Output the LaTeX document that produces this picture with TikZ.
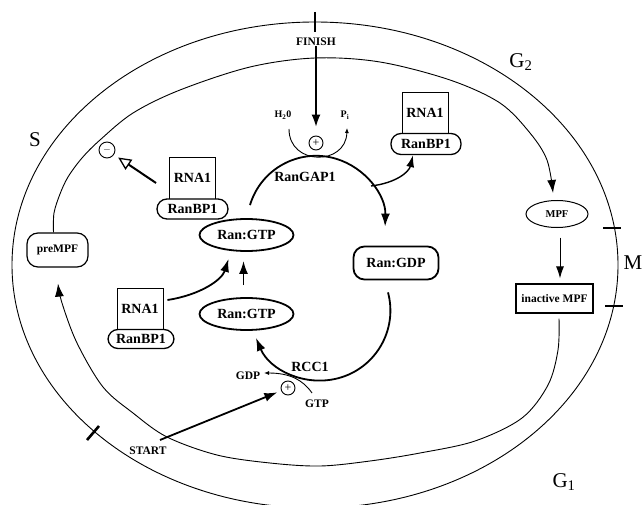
\documentclass[tikz,border=0pt]{standalone}
\usepackage{fontspec}
\setmainfont{Liberation Serif}
\usetikzlibrary{arrows.meta,shapes.geometric}
\begin{document}
\begin{tikzpicture}[x=1pt,y=-1pt,
  lbl/.style={font=\fontsize{14}{16}\selectfont\bfseries, inner sep=0pt},
  slbl/.style={font=\fontsize{11.5}{13}\selectfont\bfseries, inner sep=0pt},
  phase/.style={font=\fontsize{21}{23}\selectfont, inner sep=0pt},
  ranell/.style={draw, ellipse, line width=1.8pt, minimum width=94pt, minimum height=32pt, inner sep=0pt, lbl},
  rnabox/.style={draw, line width=0.9pt, minimum width=46pt, minimum height=41pt, inner sep=0pt, lbl},
  bpbox/.style={draw, fill=white, rounded corners=10pt, line width=1.3pt, minimum width=70pt, minimum height=21pt, inner sep=0pt, lbl},
  sign/.style={draw, circle, line width=0.9pt, minimum size=14pt, inner sep=0pt},
  thinline/.style={line width=0.9pt},
  thickarrow/.style={line width=1.8pt, -{Latex[length=13pt,width=9pt]}},
  tick/.style={line width=2.6pt}
]
\useasboundingbox (0,0) rectangle (642,505);
% cell cycle circles
\draw[thinline] (315,265) ellipse[x radius=303, y radius=243];
\draw[tick] (315,12) -- (315,32);
\draw[tick] (603,228) -- (621,228);
\draw[tick] (605,306) -- (623,306);
\draw[tick] (87,440) -- (99,426);
\node[phase] (S) at (35,140) {S};
\node[phase] (G2) at (521,62) {G\textsubscript{2}};
\node[phase] (M) at (633,263) {M};
\node[phase] (G1) at (564,482) {G\textsubscript{1}};
% MPF nodes
\node[draw, rounded corners=11pt, line width=1.2pt, minimum width=61pt, minimum height=34pt, inner sep=0pt, font=\fontsize{11.5}{13}\selectfont\bfseries] (pre) at (57.5,250) {preMPF};
\node[draw, ellipse, line width=1pt, minimum width=62pt, minimum height=27pt, inner sep=0pt, font=\fontsize{10.5}{12}\selectfont\bfseries] (mpf) at (557,214) {MPF};
\node[draw, line width=1.2pt, minimum width=77pt, minimum height=29pt, inner sep=0pt, font=\fontsize{11.5}{13}\selectfont\bfseries] (inact) at (554.5,298.5) {inactive MPF};
\draw[thinline, -{Latex[length=13pt,width=9pt]}] plot[smooth, tension=0.55] coordinates {([xshift=-4pt]pre.north) (54,213) (60,194) (68,177) (82,158) (100,140) (133,113) (180,90) (250,67) (315,58) (380,62) (450,80) (500,103) (530,133) (547,160) ([shift={(-4,-7)}]mpf.north)};
\draw[thinline, -{Latex[length=12pt,width=8pt]}] ([xshift=3pt,yshift=-9.5pt]mpf.south) -- ([xshift=5.5pt,yshift=5pt]inact.north);
\draw[thinline, -{Latex[length=13pt,width=9pt]}] plot[smooth, tension=0.55] coordinates {([shift={(4.5,5)}]inact.south) (558,350) (548,385) (522,418) (475,441) (420,453) (370,461) (320,466) (270,463) (217,455) (167,437) (133,413) (103,387) (77,343) (62,303) ([shift={(0.5,16)}]pre.south)};
% Ran nodes
\node[ranell] (gtpU) at (246.5,235) {Ran:GTP};
\node[ranell] (gtpL) at (246.5,314) {Ran:GTP};
\node[draw, rounded corners=11pt, line width=1.8pt, minimum width=85pt, minimum height=33pt, inner sep=0pt, lbl] (gdp) at (396,263) {Ran:GDP};
\node[rnabox] (rnaTR) at (425,113) {RNA1};
\node[bpbox] (bpTR) at (426,144) {RanBP1};
\node[rnabox, minimum height=42pt] (rnaUL) at (192.5,178) {RNA1};
\node[bpbox, minimum width=71pt, minimum height=20pt] (bpUL) at (192.5,209) {RanBP1};
\node[rnabox, minimum height=42pt] (rnaLL) at (140,309) {RNA1};
\node[bpbox, minimum width=66pt, minimum height=19pt] (bpLL) at (141,339) {RanBP1};
% signs
\node[sign] (plusT) at (316,143) {\fontsize{12}{12}\selectfont +};
\node[sign] (plusB) at (288,388) {\fontsize{12}{12}\selectfont +};
\node[sign, minimum size=16pt] (minus) at (107,150) {$-$};
% labels
\node[slbl] (finish) at (316,42) {FINISH};
\node[font=\fontsize{10}{12}\selectfont\bfseries, inner sep=0pt] (h2o) at (283,115) {H\textsubscript{2}0};
\node[font=\fontsize{10}{12}\selectfont\bfseries, inner sep=0pt] (pi) at (345,115) {P\textsubscript{i}};
\node[lbl] (rangap) at (305,177) {RanGAP1};
\node[lbl] (rcc) at (310,367) {RCC1};
\node[slbl] (gdpl) at (248,376) {GDP};
\node[slbl] (gtpl) at (317,404) {GTP};
\node[slbl] (start) at (148,451) {START};
% connectors
\draw[line width=1.2pt, -{Latex[length=12pt,width=9pt]}, shorten >=9pt] (finish.south) -- (plusT);
\draw[thinline, -{Latex[length=5pt,width=4pt]}] ([shift={(6,14)}]h2o.center) .. controls (289,166) and (346,166) .. ([shift={(2,13)}]pi.center);
\draw[thickarrow] ([shift={(3.5,-13)}]gtpU.north) arc[start angle=196.6, end angle=361.5, radius=69];
\coordinate (br) at (371,186);
\draw[line width=1.4pt, -{Latex[length=12pt,width=8pt]}] (br) .. controls (396,183) and (409,172) .. ([xshift=-13pt]bpTR.south);
\draw[thickarrow] ([shift={(-8,12)}]gdp.south) arc[start angle=-15, end angle=157, radius=70];
\draw[thickarrow] ([xshift=-3pt,yshift=12pt]gtpL.north) -- ([xshift=-3pt,yshift=-9pt]gtpU.south);
\draw[thickarrow] ([shift={(4,-9)}]rnaLL.east) .. controls (200,295) and (222,280) .. ([shift={(-18,7)}]gtpU.south);
\draw[thinline, -{Latex[length=5pt,width=4pt]}] ([shift={(-5,-11)}]gtpl.center) .. controls (303,380) and (290,373) .. ([shift={(16,-3)}]gdpl.center);
\draw[thickarrow, shorten >=4pt] ([shift={(12,-11)}]start.center) -- (plusB);
\draw[line width=2pt, -{Triangle[open,length=13pt,width=12pt,line width=1.3pt]}, shorten >=5pt] ([shift={(-13,5)}]rnaUL.west) -- (minus);
\end{tikzpicture}
\end{document}
